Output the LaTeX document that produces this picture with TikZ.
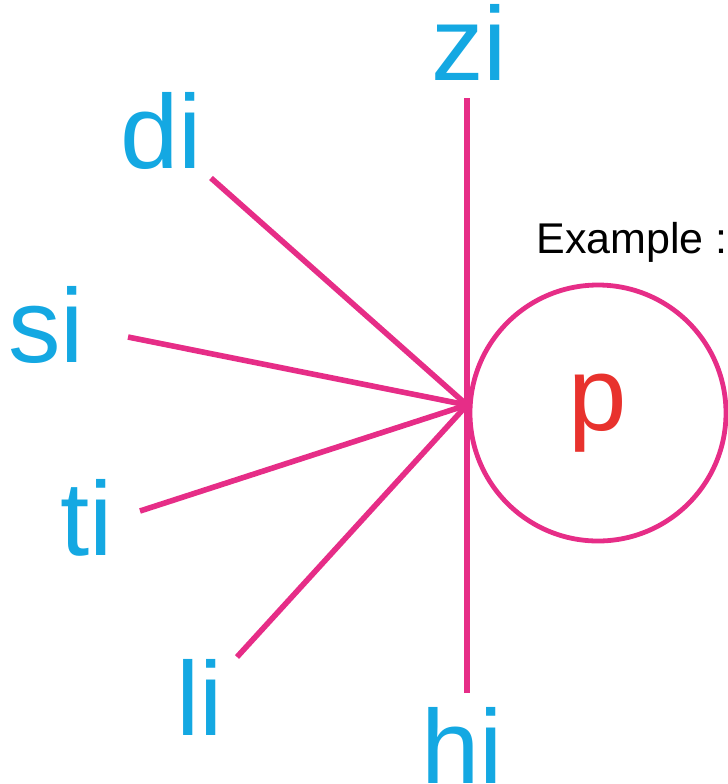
\documentclass[tikz,border=0pt]{standalone}
\usepackage{fontspec}
\setmainfont{Liberation Sans}
\usetikzlibrary{positioning}
\definecolor{spBlue}{RGB}{20,168,226}
\definecolor{spPink}{RGB}{230,45,135}
\definecolor{spRed}{RGB}{232,50,45}

\begin{document}
\begin{tikzpicture}[
    x=0.5pt, y=-0.5pt,
    syllable/.style={text=spBlue, font=\fontsize{52.5}{60}\selectfont, inner sep=0pt, anchor=base},
    spoke/.style={draw=spPink, line width=2.8pt},
    letter/.style={circle, draw=spPink, line width=2.4pt, minimum size=128pt, inner sep=0pt,
      text=spRed, font=\fontsize{52.5}{60}\selectfont},
    caption/.style={font=\fontsize{21.5}{25}\selectfont, inner sep=0pt, anchor=base west}
]
  \useasboundingbox (0,0) rectangle (728,784);

  \node[syllable] (zi) at (469,80) {zi};
  \node[syllable] (di) at (161,168) {di};
  \node[syllable] (si) at (46,362) {si};
  \node[syllable] (ti) at (87,555) {ti};
  \node[syllable] (li) at (200,735) {li};
  \node[syllable] (hi) at (462,783) {hi};

  \coordinate (hub) at (467,405);
  \coordinate (zi-end) at (467,98);
  \coordinate (di-end) at (211,178);
  \coordinate (si-end) at (128,337);
  \coordinate (ti-end) at (140,511);
  \coordinate (li-end) at (237,657);
  \coordinate (hi-end) at (467,693);

  \node[letter] (ex) at (598,413) {p};
  \node[caption] (extext) at (536,253) {Example :};

  \foreach \s in {zi,di,si,ti,li,hi}
    \draw[spoke] (\s-end) -- (hub);
\end{tikzpicture}
\end{document}
